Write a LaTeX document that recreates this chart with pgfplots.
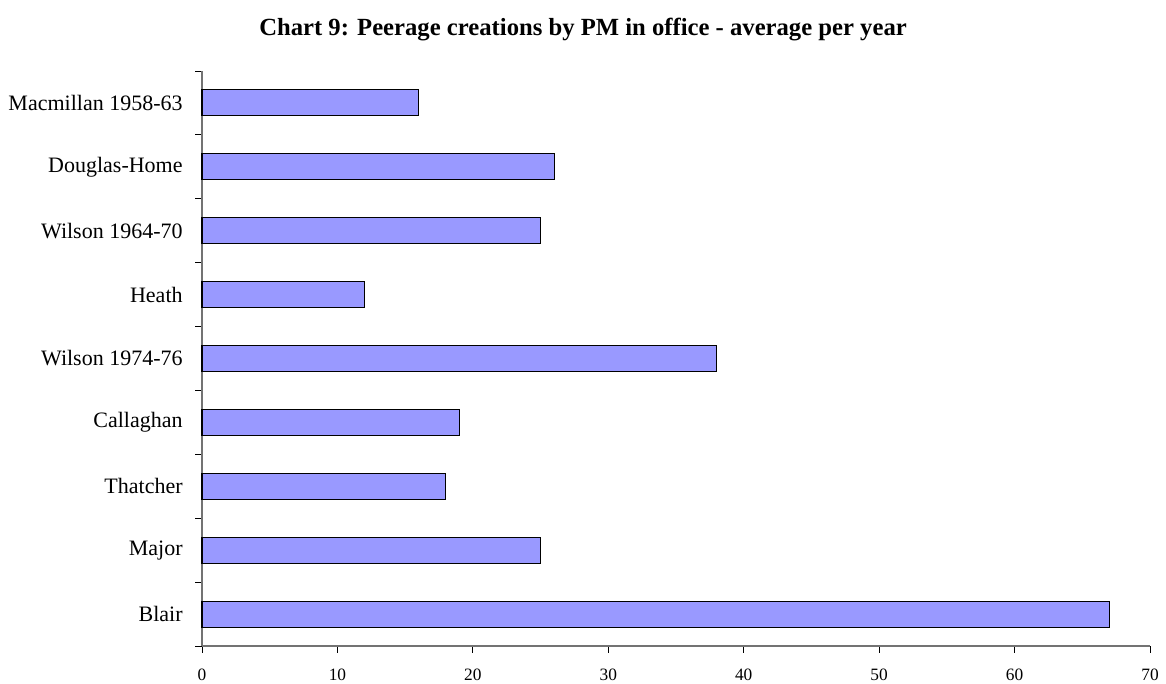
\documentclass[border=0pt]{standalone}
\usepackage{pgfplots}
\pgfplotsset{compat=1.18}
\usepackage{fontspec}
\setmainfont{Liberation Serif}
\definecolor{barfill}{HTML}{9999FF}
\begin{document}
\begin{tikzpicture}[x=1pt,y=1pt]
\useasboundingbox (0,0) rectangle (874.5,513);
\begin{axis}[
  at={(151.5pt,28.5pt)}, anchor=south west,
  scale only axis,
  width=711pt, height=431.25pt,
  xbar, bar width=19.5pt,
  xmin=0, xmax=70,
  ymin=-0.5, ymax=8.5,
  xtick={0,10,...,70},
  ytick={-0.5,0.5,...,8.5},
  y tick label as interval,
  yticklabels={Blair,Major,Thatcher,Callaghan,Wilson 1974-76,Heath,Wilson 1964-70,Douglas-Home,Macmillan 1958-63},
  axis x line*=bottom,
  axis y line*=left,
  axis line style={gray!90!black, line width=0.8pt, -},
  tick align=outside,
  major tick length=5pt,
  every tick/.style={black, line width=0.6pt},
  yticklabel style={font=\fontsize{16.5}{18}\selectfont, xshift=-6pt},
  xticklabel style={font=\fontsize{13}{15}\selectfont, yshift=-9pt},
  /pgf/number format/assume math mode=true,
  clip=false,
]
\addplot[fill=barfill, draw=black, line width=0.8pt] coordinates {
(67,0) (25,1) (18,2) (19,3) (38,4) (12,5) (25,6) (26,7) (16,8)};
\end{axis}
\node[font=\bfseries\fontsize{18.5}{20}\selectfont] at (437.25,491) {Chart 9: Peerage creations by PM in office - average per year};
\end{tikzpicture}
\end{document}
